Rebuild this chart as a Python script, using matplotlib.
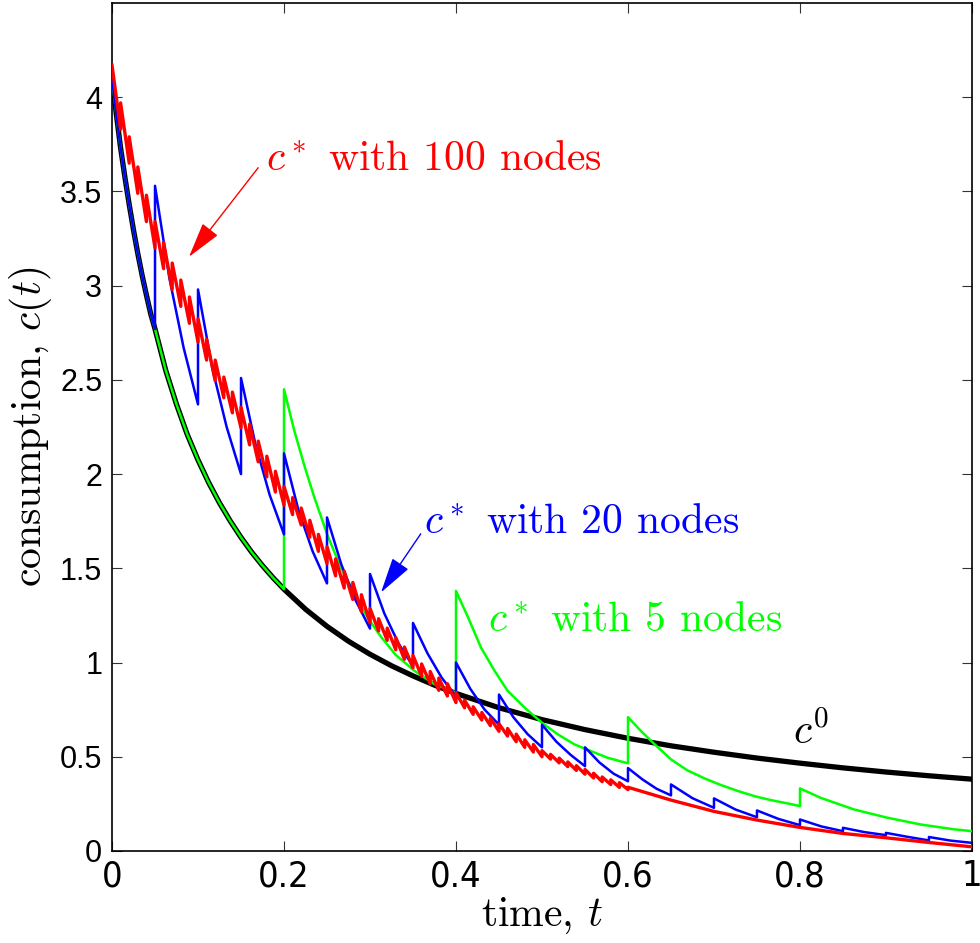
import numpy as np
import matplotlib
matplotlib.use('Agg')
import matplotlib.pyplot as plt
from matplotlib import font_manager as fm

plt.rcParams['mathtext.fontset'] = 'cm'

# ── Datos ────────────────────────────────────────────────────────────────────

# c^0 (sin nodos)
c0_t = [0, 0.005, 0.01, 0.015, 0.02, 0.025, 0.03, 0.035, 0.04, 0.045, 0.05,
        0.0625, 0.075, 0.0875, 0.1, 0.1125, 0.125, 0.1375, 0.15, 0.1625, 0.175, 0.1875, 0.2,
        0.225, 0.25, 0.275, 0.3, 0.325, 0.35, 0.375, 0.4,
        0.45, 0.5, 0.55, 0.6, 0.65, 0.7, 0.75, 0.8, 0.85, 0.9, 0.95, 1.0]
c0_c = [4.10, 3.91, 3.73, 3.575, 3.43, 3.295, 3.17, 3.055, 2.95, 2.85, 2.77,
        2.55, 2.37, 2.21, 2.075, 1.954, 1.847, 1.751, 1.664, 1.585, 1.514, 1.449, 1.389,
        1.283, 1.192, 1.113, 1.044, 0.983, 0.929, 0.880, 0.836,
        0.760, 0.697, 0.644, 0.598, 0.558, 0.524, 0.493, 0.466, 0.441, 0.419, 0.399, 0.381]

# c* con 5 nodos (hasta t = 0.2 sigue a c^0)
green_t = [0.2, 0.212, 0.224, 0.235, 0.251, 0.266, 0.282, 0.297, 0.313, 0.33, 0.352, 0.375, 0.4,
           0.4, 0.414, 0.429, 0.445, 0.46, 0.48, 0.5, 0.518, 0.538, 0.557, 0.576, 0.6,
           0.6, 0.615, 0.631, 0.65, 0.669, 0.689, 0.708, 0.728, 0.747, 0.766, 0.786, 0.8,
           0.8, 0.824, 0.863, 0.902, 0.941, 0.979, 1.0]
green_c = [2.45, 2.23, 2.04, 1.88, 1.67, 1.505, 1.365, 1.24, 1.135, 1.04, 0.955, 0.885, 0.84,
           1.38, 1.24, 1.08, 0.955, 0.85, 0.76, 0.68, 0.62, 0.565, 0.53, 0.495, 0.465,
           0.71, 0.637, 0.566, 0.486, 0.428, 0.385, 0.35, 0.318, 0.291, 0.27, 0.252, 0.238,
           0.332, 0.282, 0.22, 0.176, 0.14, 0.115, 0.105]

# c* con 20 nodos (hasta t = 0.05 sigue a c^0)
blue_t = [0.05, 0.0667, 0.0833, 0.1,
          0.1, 0.1167, 0.1333, 0.15,
          0.15, 0.1667, 0.1833, 0.2,
          0.2, 0.2167, 0.2333, 0.25,
          0.25, 0.2667, 0.2833, 0.3,
          0.3, 0.3167, 0.3333, 0.35,
          0.35, 0.3667, 0.3833, 0.4,
          0.4, 0.4167, 0.4333, 0.45,
          0.45, 0.4667, 0.4833, 0.5,
          0.5, 0.5167, 0.5333, 0.55,
          0.55, 0.5667, 0.5833, 0.6,
          0.6, 0.6167, 0.6333, 0.65,
          0.65, 0.675, 0.7,
          0.7, 0.725, 0.75,
          0.75, 0.775, 0.8,
          0.8, 0.825, 0.85,
          0.85, 0.875, 0.9,
          0.9, 0.925, 0.95,
          0.95, 0.975, 1.0]
blue_c = [3.53, 3.04, 2.67, 2.37,
          2.98, 2.56, 2.25, 2.00,
          2.51, 2.16, 1.89, 1.68,
          2.11, 1.81, 1.59, 1.42,
          1.77, 1.52, 1.33, 1.18,
          1.47, 1.26, 1.10, 0.98,
          1.21, 1.05, 0.92, 0.82,
          1.00, 0.86, 0.75, 0.67,
          0.83, 0.71, 0.62, 0.55,
          0.67, 0.58, 0.51, 0.45,
          0.55, 0.47, 0.41, 0.37,
          0.44, 0.38, 0.33, 0.295,
          0.353, 0.28, 0.229,
          0.279, 0.22, 0.179,
          0.215, 0.17, 0.137,
          0.167, 0.13, 0.105,
          0.123, 0.10, 0.084,
          0.096, 0.075, 0.056,
          0.074, 0.055, 0.043]

# c* con 100 nodos: valor medio en cada nodo (t = 0, 0.01, ..., 0.6)
red_mid = [4.10, 3.90, 3.72, 3.56, 3.41, 3.27, 3.16, 3.05, 2.96, 2.87,
           2.77, 2.66, 2.55, 2.46, 2.38, 2.30, 2.21, 2.12, 2.04, 1.96,
           1.89, 1.83, 1.775, 1.71, 1.635, 1.57, 1.505, 1.44, 1.38, 1.315,
           1.255, 1.20, 1.15, 1.10, 1.05, 1.005, 0.96, 0.92, 0.885, 0.855,
           0.82, 0.78, 0.745, 0.715, 0.685, 0.655, 0.63, 0.60, 0.57, 0.545,
           0.52, 0.50, 0.48, 0.46, 0.44, 0.42, 0.40, 0.38, 0.365, 0.35, 0.338]
# salto en cada nodo, por tramos de 0.1
red_jump = [0.14, 0.11, 0.09, 0.065, 0.04, 0.025]
red_tail_t = [0.6, 0.65, 0.7, 0.75, 0.8, 0.85, 0.9, 0.95, 1.0]
red_tail_c = [0.338, 0.27, 0.21, 0.164, 0.125, 0.093, 0.07, 0.045, 0.022]

# ── Curvas completas ─────────────────────────────────────────────────────────

n_g = c0_t.index(0.2) + 1
n_b = c0_t.index(0.05) + 1
green_T = c0_t[:n_g] + green_t
green_C = c0_c[:n_g] + green_c
blue_T = c0_t[:n_b] + blue_t
blue_C = c0_c[:n_b] + blue_c

red_nodes = np.round(np.arange(len(red_mid)) * 0.01, 2)
red_t, red_c = [], []
for k in range(len(red_mid) - 1):
    j = red_jump[k // 10]
    red_t += [red_nodes[k], red_nodes[k + 1]]
    red_c += [red_mid[k] + j / 2, red_mid[k + 1] - j / 2]
red_t += red_tail_t
red_c += red_tail_c

# ── Fuente estrecha para los ticks del eje x, si existe ──────────────────────

fuentes = fm.fontManager.ttflist
if any(f.name == 'Liberation Sans Narrow' for f in fuentes):
    xfont = dict(family='Liberation Sans Narrow', stretch='normal', size=29)
elif any(f.name == 'DejaVu Sans' and f.stretch == 'condensed' for f in fuentes):
    xfont = dict(family='DejaVu Sans', stretch='condensed', size=26)
else:
    xfont = dict(family='Liberation Sans', stretch='normal', size=26)

# ── Gráfico ──────────────────────────────────────────────────────────────────

fig = plt.figure(figsize=(9.8, 9.43), dpi=100)
ax = fig.add_axes([0.1143, 0.0976, 0.8775, 0.8992])

ax.plot(c0_t, c0_c, color='k', lw=3.8, zorder=2)
ax.plot(green_T, green_C, color=(0, 1, 0), lw=1.8, zorder=3)
ax.plot(blue_T, blue_C, color=(0, 0, 1), lw=1.8, zorder=4)
ax.plot(red_t, red_c, color=(1, 0, 0), lw=2.4, zorder=5)

ax.set_xlim(0, 1)
ax.set_ylim(0, 4.5)
ax.set_xticks([0, 0.2, 0.4, 0.6, 0.8, 1])
ax.set_xticklabels(['0', '0.2', '0.4', '0.6', '0.8', '1'])
ax.set_yticks([0, 0.5, 1, 1.5, 2, 2.5, 3, 3.5, 4])
ax.set_yticklabels(['0', '0.5', '1', '1.5', '2', '2.5', '3', '3.5', '4'])

ax.tick_params(direction='in', length=7, width=0.8, color='#333333',
               top=True, right=True)
ax.tick_params(axis='y', labelsize=22, pad=7)
ax.tick_params(axis='x', pad=6)
for lbl in ax.get_yticklabels():
    lbl.set_fontfamily('Liberation Sans')
for lbl in ax.get_xticklabels():
    lbl.set_fontfamily(xfont['family'])
    lbl.set_fontstretch(xfont['stretch'])
    lbl.set_fontsize(xfont['size'])
for sp in ax.spines.values():
    sp.set_linewidth(1.2)

ax.set_xlabel(r'time, $t$', fontfamily='cmr10', fontsize=30, labelpad=2)
ax.set_ylabel(r'consumption, $c(t)$', fontfamily='cmr10', fontsize=30, labelpad=4)

# anotaciones
fs = 30
flecha = '-|>,head_length=1.4,head_width=0.38'
ax.text(0.179, 3.615, r'$c^*$ with 100 nodes', color='r', fontfamily='cmr10',
        fontsize=fs, va='baseline', ha='left')
ax.annotate('', xy=(0.0895, 3.153), xytext=(0.170, 3.626),
            arrowprops=dict(arrowstyle=flecha, color='r', lw=1.0,
                            mutation_scale=16, shrinkA=0, shrinkB=0))

ax.text(0.363, 1.69, r'$c^*$ with 20 nodes', color='b', fontfamily='cmr10',
        fontsize=fs, va='baseline', ha='left')
ax.annotate('', xy=(0.3128, 1.372), xytext=(0.359, 1.683),
            arrowprops=dict(arrowstyle=flecha, color='b', lw=1.0,
                            mutation_scale=16, shrinkA=0, shrinkB=0))

ax.text(0.437, 1.169, r'$c^*$ with 5 nodes', color=(0, 1, 0), fontfamily='cmr10',
        fontsize=fs, va='baseline', ha='left')
ax.text(0.7915, 0.568, r'$c^0$', color='k', fontsize=fs, va='baseline', ha='left')

fig.savefig('out.png', dpi=100)
plt.close(fig)
